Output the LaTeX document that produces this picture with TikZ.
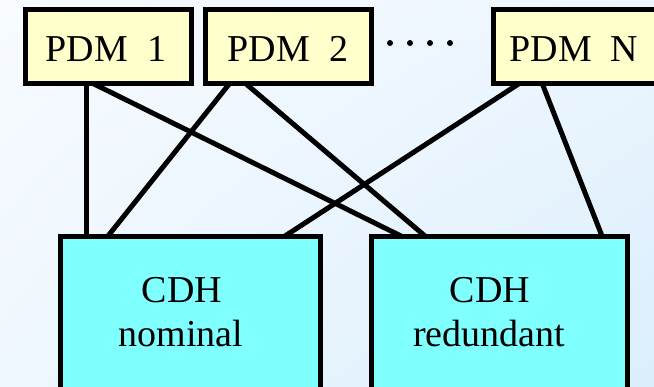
\documentclass[tikz,border=0pt]{standalone}
\usepackage{fontspec}
\setmainfont{Liberation Serif}
\usetikzlibrary{calc,shadings}

\definecolor{bgul}{HTML}{F7FBFF}
\definecolor{bgur}{HTML}{ECF5FE}
\definecolor{bgll}{HTML}{EFF7FE}
\definecolor{bglr}{HTML}{DAEEFC}
\definecolor{pdmfill}{HTML}{FFFFCC}
\definecolor{cdhfill}{HTML}{80FFFF}

\tikzset{
  pdmbox/.style={draw=black, line width=5pt, fill=pdmfill, rectangle,
    outer sep=0pt, inner sep=0pt, minimum width=166pt, minimum height=74pt,
    anchor=north west},
  cdhbox/.style={draw=black, line width=5pt, fill=cdhfill, rectangle,
    outer sep=0pt, inner sep=0pt, minimum width=260pt, minimum height=200pt,
    anchor=north west},
  lbl/.style={inner sep=0pt, anchor=base, font=\fontsize{38}{45}\selectfont},
  link/.style={draw=black, line width=5pt},
}

\begin{document}
\begin{tikzpicture}[x=1pt, y=-1pt]
  \useasboundingbox (0,0) rectangle (654,386);
  \clip (0,0) rectangle (654,386);
  \shade[upper left=bgul, upper right=bgur, lower left=bgll, lower right=bglr]
    (0,0) rectangle (654,386);

  % processing modules
  \node[pdmbox] (p1) at (25,9) {};
  \node[pdmbox] (p2) at (205,9) {};
  \node[pdmbox] (pn) at (493,9) {};

  % command and data handling units
  \node[cdhbox] (nom) at (60,236) {};
  \node[cdhbox, minimum width=256pt] (red) at (371,236) {};

  % links
  \draw[link] ([xshift=61pt]p1.south west) -- ([xshift=26pt]nom.north west);
  \draw[link] ([xshift=67pt]p1.south west) -- ([xshift=30pt]red.north west);
  \draw[link] ([xshift=25pt]p2.south west) -- ([xshift=48pt]nom.north west);
  \draw[link] ([xshift=40pt]p2.south west) -- ([xshift=54pt]red.north west);
  \draw[link] ([xshift=27pt]pn.south west) -- ([xshift=225pt]nom.north west);
  \draw[link] ([xshift=49pt]pn.south west) -- ([xshift=231pt]red.north west);

  % labels
  \node[lbl] (t1) at (106,61) {PDM\ \ 1};
  \node[lbl] (t2) at (288,61) {PDM\ \ 2};
  \node[lbl] (tn) at (574,61) {PDM\ \ N};
  \node[lbl] (nomA) at (182,302) {CDH};
  \node[lbl] (nomB) at (181,346) {nominal};
  \node[lbl] (redA) at (490,302) {CDH};
  \node[lbl] (redB) at (489,346) {redundant};

  % ellipsis between modules
  \foreach \dx in {390,410,430,450}
    \fill[black] (\dx,43) circle[radius=3pt];
\end{tikzpicture}
\end{document}
